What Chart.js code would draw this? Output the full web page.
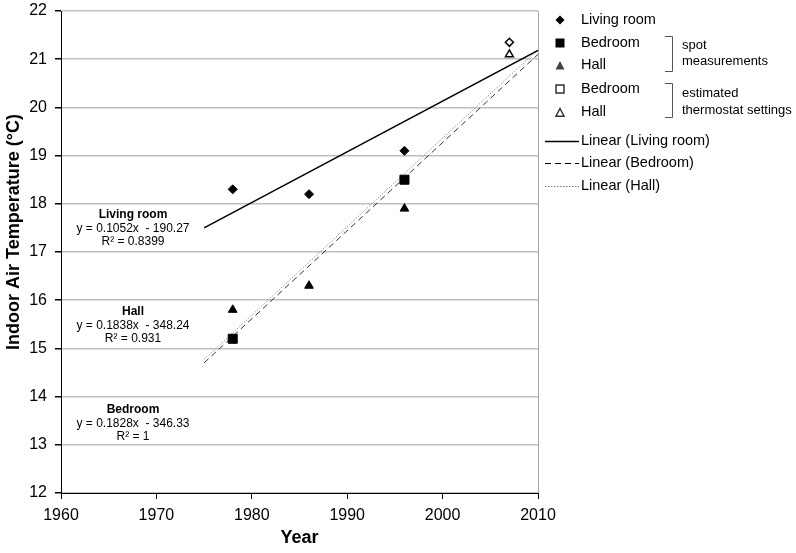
<!DOCTYPE html>
<html>
<head>
<meta charset="utf-8">
<script src="https://cdn.jsdelivr.net/npm/chart.js@4.4.0/dist/chart.umd.min.js"></script>
<style>
    html, body { margin: 0; padding: 0; background: #fff; }
    #wrap { width: 796px; height: 553px; }
</style>
</head>
<body>
<div id="wrap"><canvas id="tempChart" width="796" height="553"></canvas></div>
<script>
// Spot measurements
const livingYears = [1978, 1986, 1996];
const livingTemps = [18.3, 18.2, 19.1];
const bedroomYears = [1978, 1996];
const bedroomTemps = [15.2, 18.5];
const hallYears = [1978, 1986, 1996];
const hallTemps = [15.8, 16.3, 17.9];

// Estimated thermostat settings
const estYears = [2007];
const livingEst = [21.35];
const hallEst = [21.1];

// Trendline end points (from the fitted equations)
const trendYears = [1975, 2010];
const livingTrend = [17.50, 21.18];
const bedroomTrend = [14.70, 21.10];
const hallTrend = [14.77, 21.20];

// Axis ticks
const xTicks = [1960, 1970, 1980, 1990, 2000, 2010];
const yTicks = [12, 13, 14, 15, 16, 17, 18, 19, 20, 21, 22];

const FONT = '"Liberation Sans", Arial, sans-serif';

function pts(xs, ys) {
    return xs.map((x, i) => ({ x: x, y: ys[i] }));
}

// small shape helpers for the hand-drawn legend
function shape(ctx, type, x, y, r, fill, stroke) {
    ctx.save();
    ctx.beginPath();
    if (type === 'diamond') {
        ctx.moveTo(x, y - r); ctx.lineTo(x + r, y); ctx.lineTo(x, y + r); ctx.lineTo(x - r, y);
    } else if (type === 'square') {
        ctx.rect(x - r, y - r, 2 * r, 2 * r);
    } else {
        ctx.moveTo(x, y - r); ctx.lineTo(x + r * 0.9, y + r * 0.7); ctx.lineTo(x - r * 0.9, y + r * 0.7);
    }
    ctx.closePath();
    if (fill) { ctx.fillStyle = fill; ctx.fill(); }
    if (stroke) { ctx.lineWidth = 1.5; ctx.strokeStyle = stroke; ctx.stroke(); }
    ctx.restore();
}

const extras = {
    id: 'extras',
    afterDraw(chart) {
        const ctx = chart.ctx;
        const area = chart.chartArea;
        ctx.save();

        // right border of plot area
        ctx.strokeStyle = '#a6a6a6';
        ctx.lineWidth = 1;
        ctx.beginPath();
        ctx.moveTo(area.right + 0.5, area.top);
        ctx.lineTo(area.right + 0.5, area.bottom);
        ctx.stroke();

        // axis titles
        ctx.fillStyle = '#000';
        ctx.font = 'bold 18px ' + FONT;
        ctx.textAlign = 'center';
        ctx.textBaseline = 'middle';
        ctx.fillText('Year', (area.left + area.right) / 2, 538);
        ctx.save();
        ctx.translate(14, 232);
        ctx.rotate(-Math.PI / 2);
        ctx.fillText('Indoor Air Temperature (°C)', 0, 0);
        ctx.restore();

        // trendline equations
        const notes = [
            ['Living room', 'y = 0.1052x  - 190.27', 'R² = 0.8399', 215],
            ['Hall', 'y = 0.1838x  - 348.24', 'R² = 0.931', 312],
            ['Bedroom', 'y = 0.1828x  - 346.33', 'R² = 1', 410]
        ];
        notes.forEach(n => {
            ctx.font = 'bold 12px ' + FONT;
            ctx.fillText(n[0], 133, n[3]);
            ctx.font = '12px ' + FONT;
            ctx.fillText(n[1], 133, n[3] + 13.5);
            ctx.fillText(n[2], 133, n[3] + 27);
        });

        // legend
        ctx.textAlign = 'left';
        ctx.font = '14.5px ' + FONT;
        const mx = 560, tx = 581;
        shape(ctx, 'diamond', mx, 20, 4.5, '#000');
        ctx.fillText('Living room', tx, 20);
        shape(ctx, 'square', mx, 43, 4.5, '#000');
        ctx.fillText('Bedroom', tx, 43);
        shape(ctx, 'triangle', mx, 66, 5, '#404040');
        ctx.fillText('Hall', tx, 65);
        shape(ctx, 'square', mx, 89, 4, '#fff', '#333');
        ctx.fillText('Bedroom', tx, 89);
        shape(ctx, 'triangle', mx, 113, 4.5, '#fff', '#333');
        ctx.fillText('Hall', tx, 112);

        const lineRows = [
            [141, 'Linear (Living room)', [], '#000', 1.5],
            [163, 'Linear (Bedroom)', [6, 4], '#000', 1],
            [186, 'Linear (Hall)', [1.5, 1.5], '#777', 1]
        ];
        lineRows.forEach(r => {
            ctx.save();
            ctx.strokeStyle = r[3];
            ctx.lineWidth = r[4];
            ctx.setLineDash(r[2]);
            ctx.beginPath();
            ctx.moveTo(545, r[0] + 0.5);
            ctx.lineTo(579, r[0] + 0.5);
            ctx.stroke();
            ctx.restore();
            ctx.fillText(r[1], tx, r[0]);
        });

        // brackets
        ctx.strokeStyle = '#555';
        ctx.lineWidth = 1;
        [[36, 71], [83, 117]].forEach(b => {
            ctx.beginPath();
            ctx.moveTo(665, b[0] + 0.5);
            ctx.lineTo(672.5, b[0] + 0.5);
            ctx.lineTo(672.5, b[1] + 0.5);
            ctx.lineTo(665, b[1] + 0.5);
            ctx.stroke();
        });
        ctx.font = '13px ' + FONT;
        ctx.fillText('spot', 682, 45);
        ctx.fillText('measurements', 682, 61);
        ctx.fillText('estimated', 682, 93);
        ctx.fillText('thermostat settings', 682, 110);

        ctx.restore();
    }
};

new Chart(document.getElementById('tempChart'), {
    type: 'scatter',
    data: {
        datasets: [
            {
                label: 'Linear (Living room)',
                data: pts(trendYears, livingTrend),
                showLine: true, borderColor: '#000', borderWidth: 1.5,
                pointRadius: 0, order: 3
            },
            {
                label: 'Linear (Bedroom)',
                data: pts(trendYears, bedroomTrend),
                showLine: true, borderColor: '#333', borderWidth: 1,
                borderDash: [6, 4], pointRadius: 0, order: 3
            },
            {
                label: 'Linear (Hall)',
                data: pts(trendYears, hallTrend),
                showLine: true, borderColor: '#999', borderWidth: 1,
                borderDash: [1.5, 1.5], pointRadius: 0, order: 3
            },
            {
                label: 'Living room',
                data: pts(livingYears, livingTemps),
                pointStyle: 'rectRot', pointRadius: 4.5,
                backgroundColor: '#000', borderColor: '#000', order: 1
            },
            {
                label: 'Bedroom',
                data: pts(bedroomYears, bedroomTemps),
                pointStyle: 'rect', pointRadius: 6.4,
                backgroundColor: '#000', borderColor: '#000', order: 1
            },
            {
                label: 'Hall',
                data: pts(hallYears, hallTemps),
                pointStyle: 'triangle', pointRadius: 5,
                backgroundColor: '#000', borderColor: '#000', order: 1
            },
            {
                label: 'Living room (estimated)',
                data: pts(estYears, livingEst),
                pointStyle: 'rectRot', pointRadius: 4,
                backgroundColor: '#fff', borderColor: '#000', borderWidth: 1.5, order: 1
            },
            {
                label: 'Hall (estimated)',
                data: pts(estYears, hallEst),
                pointStyle: 'triangle', pointRadius: 4.5,
                backgroundColor: '#fff', borderColor: '#000', borderWidth: 1.5, order: 1
            }
        ]
    },
    options: {
        responsive: false,
        animation: false,
        layout: { padding: { left: 0, right: 258, top: 11, bottom: 0 } },
        scales: {
            x: {
                type: 'linear',
                min: xTicks[0],
                max: xTicks[xTicks.length - 1],
                afterBuildTicks: scale => { scale.ticks = xTicks.map(v => ({ value: v })); },
                afterFit: scale => { scale.height = 60; scale.paddingLeft = 0; scale.paddingRight = 0; },
                grid: { drawOnChartArea: false, tickLength: 6, tickColor: '#000' },
                border: { color: '#000', width: 1 },
                ticks: {
                    color: '#000', padding: 7,
                    font: { family: FONT, size: 16 },
                    callback: v => String(v)
                }
            },
            y: {
                min: yTicks[0],
                max: yTicks[yTicks.length - 1],
                afterBuildTicks: scale => { scale.ticks = yTicks.map(v => ({ value: v })); },
                afterFit: scale => { scale.width = 61; scale.paddingTop = 0; scale.paddingBottom = 0; },
                grid: { color: '#bfbfbf', lineWidth: 1.5, tickLength: 6, tickColor: '#000' },
                border: { color: '#000', width: 1 },
                ticks: {
                    color: '#000', padding: 8,
                    font: { family: FONT, size: 16 }
                }
            }
        },
        plugins: {
            legend: { display: false },
            tooltip: { enabled: false }
        }
    },
    plugins: [extras]
});
</script>
</body>
</html>
